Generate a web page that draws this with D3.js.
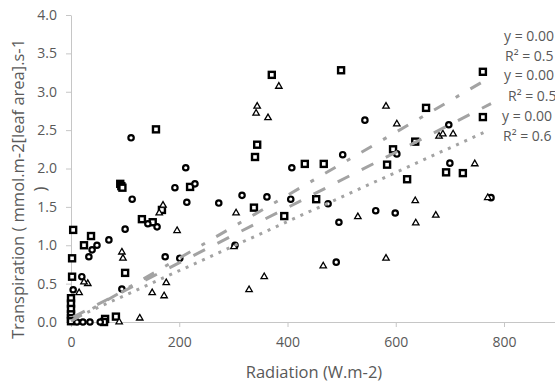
<!DOCTYPE html>
<html>
<head>
<meta charset="utf-8">
<script src="https://cdn.jsdelivr.net/npm/d3@7"></script>
<style>
  body { margin: 0; background: #fff; }
  svg { display: block; font-family: "Open Sans", sans-serif; }
</style>
</head>
<body>
<div id="chart"></div>
<script>
// series: radiation (W.m-2) and transpiration
const squareX = [157, 91, 93, 95, 220, 168, 131, 151, 4, 37, 24, 2, 2, 100, 0, 0, 0, 0, 0, 0, 63, 83, 61, 344, 340, 432, 467, 595, 584, 453, 338, 394, 371, 499, 761, 656, 761, 636, 621, 693, 724];
const squareY = [2.51, 1.80, 1.77, 1.75, 1.76, 1.46, 1.34, 1.30, 1.20, 1.12, 1.00, 0.83, 0.59, 0.64, 0.31, 0.24, 0.17, 0.10, 0.05, 0.01, 0.04, 0.07, 0.0, 2.31, 2.15, 2.06, 2.06, 2.25, 2.05, 1.60, 1.49, 1.38, 3.22, 3.28, 3.26, 2.79, 2.67, 2.35, 1.86, 1.95, 1.94];

const circleX = [111, 212, 192, 229, 113, 214, 142, 159, 100, 70, 48, 39, 33, 174, 201, 20, 4, 94, 11, 22, 35, 54, 502, 408, 602, 273, 316, 362, 406, 475, 495, 563, 599, 303, 490, 543, 698, 700, 776];
const circleY = [2.40, 2.01, 1.75, 1.80, 1.60, 1.56, 1.28, 1.24, 1.21, 1.07, 1.00, 0.94, 0.85, 0.85, 0.83, 0.59, 0.42, 0.43, 0, 0, 0, 0, 2.18, 2.01, 2.19, 1.55, 1.65, 1.63, 1.60, 1.54, 1.30, 1.45, 1.42, 1.00, 0.78, 2.63, 2.57, 2.07, 1.62];

const triangleX = [170, 163, 196, 94, 96, 31, 24, 15, 176, 150, 172, 127, 89, 305, 301, 530, 466, 582, 329, 357, 384, 344, 342, 364, 582, 602, 680, 687, 706, 746, 770, 636, 674, 637];
const triangleY = [1.52, 1.42, 1.19, 0.91, 0.83, 0.50, 0.52, 0.38, 0.51, 0.38, 0.34, 0.05, 0.0, 1.42, 0.98, 1.37, 0.73, 0.83, 0.42, 0.59, 3.07, 2.81, 2.72, 2.66, 2.81, 2.58, 2.42, 2.45, 2.45, 2.06, 1.62, 1.58, 1.39, 1.29];

const xTicks = [0, 200, 400, 600, 800];
const yTicks = [0, 0.5, 1, 1.5, 2, 2.5, 3, 3.5, 4];

// linear trendlines (squares, circles, triangles)
const trendSlope = [0.0041, 0.0036, 0.0032];
const trendIntercept = [0.0119, 0.0512, 0.0287];
// trendline labels, only the part that fits in the frame is visible
const trendEq = ['y = 0.00', 'y = 0.00', 'y = 0.00'];
const trendR2 = ['R² = 0.5', 'R² = 0.5', 'R² = 0.6'];

const width = 555, height = 382;
const margin = { top: 15, left: 71, bottom: 60 };

const svg = d3.select('#chart').append('svg')
  .attr('width', width)
  .attr('height', height);

const x = d3.scaleLinear().domain([0, 900]).range([margin.left, margin.left + 900 * 0.54125]);
const y = d3.scaleLinear().domain([0, 4]).range([height - margin.bottom, margin.top]);

const axisColor = '#c6c6c6';
const textColor = '#595959';

// axes
const gx = svg.append('g')
  .attr('transform', `translate(0,${y(0)})`)
  .call(d3.axisBottom(x).tickValues(xTicks).tickFormat(d3.format('d'))
    .tickSize(5).tickSizeOuter(0).tickPadding(10));

const gy = svg.append('g')
  .attr('transform', `translate(${x(0)},0)`)
  .call(d3.axisLeft(y).tickValues(yTicks).tickFormat(d3.format('.1f'))
    .tickSize(5).tickSizeOuter(0).tickPadding(9));

[gx, gy].forEach(g => {
  g.select('.domain').attr('stroke', axisColor);
  g.selectAll('.tick line').attr('stroke', axisColor);
  g.selectAll('.tick text')
    .attr('fill', textColor)
    .style('font-size', '14px')
    .style('font-family', '"Open Sans", sans-serif');
});

// markers
const squares = d3.zip(squareX, squareY);
const circles = d3.zip(circleX, circleY);
const triangles = d3.zip(triangleX, triangleY);

svg.append('g').selectAll('rect')
  .data(squares)
  .join('rect')
  .attr('x', d => x(d[0]) - 3)
  .attr('y', d => y(d[1]) - 3)
  .attr('width', 6)
  .attr('height', 6)
  .attr('fill', '#fff')
  .attr('stroke', '#000')
  .attr('stroke-width', 2.4);

svg.append('g').selectAll('circle')
  .data(circles)
  .join('circle')
  .attr('cx', d => x(d[0]))
  .attr('cy', d => y(d[1]))
  .attr('r', 2.7)
  .attr('fill', '#fff')
  .attr('stroke', '#000')
  .attr('stroke-width', 2.2);

const tri = d3.symbol(d3.symbolTriangle, 18);
svg.append('g').selectAll('path')
  .data(triangles)
  .join('path')
  .attr('d', tri)
  .attr('transform', d => `translate(${x(d[0])},${y(d[1])})`)
  .attr('fill', '#fff')
  .attr('stroke', '#000')
  .attr('stroke-width', 1.3);

// trendlines
const seriesX = [squareX, circleX, triangleX];
const dashes = ['12,13,4,13', '13,14', '3,6'];

seriesX.forEach((xs, i) => {
  const ends = d3.extent(xs);
  svg.append('path')
    .datum(ends)
    .attr('d', d3.line()
      .x(d => x(d))
      .y(d => y(trendSlope[i] * d + trendIntercept[i])))
    .attr('fill', 'none')
    .attr('stroke', '#a3a3a3')
    .attr('stroke-width', 3)
    .attr('stroke-dasharray', dashes[i]);
});

// trendline equations at the right edge
const labelPos = [
  { x: 504, y: 41, rx: 505, ry: 61 },
  { x: 504, y: 80, rx: 508, ry: 101 },
  { x: 502, y: 121, rx: 503, ry: 141 }
];
labelPos.forEach((p, i) => {
  svg.append('text')
    .attr('x', p.x).attr('y', p.y)
    .attr('fill', textColor)
    .style('font-size', '14px')
    .text(trendEq[i]);
  svg.append('text')
    .attr('x', p.rx).attr('y', p.ry)
    .attr('fill', textColor)
    .style('font-size', '14px')
    .text(trendR2[i]);
});

// axis titles
svg.append('text')
  .attr('x', 314)
  .attr('y', 378)
  .attr('text-anchor', 'middle')
  .attr('fill', textColor)
  .style('font-size', '16.5px')
  .text('Radiation (W.m-2)');

const yTitle = svg.append('text')
  .attr('transform', 'translate(24,189) rotate(-90)')
  .attr('text-anchor', 'middle')
  .attr('fill', textColor)
  .style('font-size', '16.5px');
yTitle.append('tspan').attr('x', 0).attr('y', 0).text('Transpiration ( mmol.m-2[leaf area].s-1');
yTitle.append('tspan').attr('x', 0).attr('y', 21.5).text(')');
</script>
</body>
</html>
